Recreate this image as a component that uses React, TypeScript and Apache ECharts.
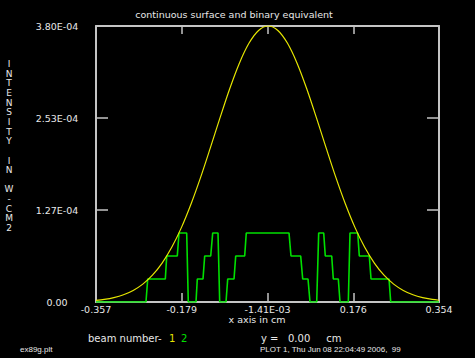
import React, { useEffect, useRef } from "react";
import * as echarts from "echarts";

// Continuous surface intensity (yellow)
const gaussX = [-0.357, -0.34, -0.32, -0.30, -0.28, -0.26, -0.24, -0.22, -0.20, -0.18, -0.16, -0.14, -0.12, -0.10, -0.08, -0.06, -0.04, -0.02, 0.0,
  0.02, 0.04, 0.06, 0.08, 0.10, 0.12, 0.14, 0.16, 0.18, 0.20, 0.22, 0.24, 0.26, 0.28, 0.30, 0.32, 0.34, 0.354];
const gaussY = [2.19e-6, 3.53e-6, 6.03e-6, 9.95e-6, 1.59e-5, 2.46e-5, 3.69e-5, 5.36e-5, 7.53e-5, 1.024e-4, 1.349e-4, 1.719e-4, 2.122e-4, 2.535e-4, 2.933e-4, 3.285e-4, 3.562e-4, 3.739e-4, 3.80e-4,
  3.739e-4, 3.562e-4, 3.285e-4, 2.933e-4, 2.535e-4, 2.122e-4, 1.719e-4, 1.349e-4, 1.024e-4, 7.53e-5, 5.36e-5, 3.69e-5, 2.46e-5, 1.59e-5, 9.95e-6, 6.03e-6, 3.53e-6, 2.38e-6];

// Binary equivalent (green)
const greenX = [-0.357, -0.2534, -0.2498, -0.2133, -0.2104, -0.1885, -0.1849, -0.1690, -0.1657, -0.1497, -0.1470, -0.1352, -0.1317, -0.1192, -0.1151, -0.1041, -0.1006,
  -0.0875, -0.0840, -0.0709, -0.0674, -0.0488, -0.0455, 0.0431, 0.0472, 0.0673, 0.0715, 0.0825, 0.0866, 0.1005, 0.1046, 0.1150, 0.1183, 0.1316, 0.1349,
  0.1453, 0.1488, 0.1660, 0.1695, 0.1855, 0.1888, 0.2095, 0.2131, 0.2504, 0.2539, 0.354];
const greenY = [0, 0, 3.17e-5, 3.17e-5, 6.33e-5, 6.33e-5, 9.5e-5, 9.5e-5, 0, 0, 3.17e-5, 3.17e-5, 6.33e-5, 6.33e-5, 9.5e-5, 9.5e-5, 0,
  0, 3.17e-5, 3.17e-5, 6.33e-5, 6.33e-5, 9.5e-5, 9.5e-5, 6.33e-5, 6.33e-5, 3.17e-5, 3.17e-5, 0, 0, 9.5e-5, 9.5e-5, 6.33e-5, 6.33e-5, 3.17e-5,
  3.17e-5, 0, 0, 9.5e-5, 9.5e-5, 6.33e-5, 6.33e-5, 3.17e-5, 3.17e-5, 0, 0];

const xTickLabels = ["-0.357", "-0.179", "-1.41E-03", "0.176", "0.354"];
const yTickLabels = ["0.00", "1.27E-04", "2.53E-04", "3.80E-04"];
const xMin = -0.357;
const xMax = 0.354;
const yMax = 3.8e-4;
const yAxisTitle = "INTENSITY IN W-CM2";

const FRAME = "#c4c4c4";
const TXT = "#e8e8e8";

export default function App() {
  const ref = useRef<HTMLDivElement>(null);
  useEffect(() => {
    if (!ref.current) return;
    const chart = echarts.init(ref.current, null, { renderer: "svg" });
    const letters: any[] = yAxisTitle.split("").map((ch, i) => ({
      type: "text",
      x: 9,
      y: 64 + i * 9.65,
      style: { text: ch, fill: TXT, font: "9px 'DejaVu Sans'", textAlign: "center", textVerticalAlign: "middle" },
    }));
    const tickLine = { lineStyle: { color: FRAME, width: 1.5 } };
    const axisLine = { show: true, onZero: false, lineStyle: { color: FRAME, width: 2 } };
    const gridPos = { left: 96, right: 36, top: 26, bottom: 56, containLabel: false };
    chart.setOption({
      animation: false,
      backgroundColor: "#000000",
      grid: [{ ...gridPos }, { ...gridPos }, { ...gridPos }],
      xAxis: [
        { type: "value", min: xMin, max: xMax, show: false, gridIndex: 0 },
        {
          type: "value", min: 0, max: 4, interval: 1, position: "bottom", gridIndex: 1,
          axisLine, splitLine: { show: false },
          axisTick: { show: true, inside: true, length: 9, ...tickLine },
          axisLabel: {
            show: true, color: TXT, fontSize: 9.5, fontFamily: "DejaVu Sans", margin: 2,
            showMinLabel: true, showMaxLabel: true,
            formatter: (v: number) => xTickLabels[Math.round(v)] ?? "",
          },
        },
        {
          type: "value", min: 0, max: 4, interval: 1, position: "top", gridIndex: 2,
          axisLine, splitLine: { show: false },
          axisTick: { show: true, inside: true, length: 8, ...tickLine },
          axisLabel: { show: false },
        },
      ],
      yAxis: [
        { type: "value", min: 0, max: yMax, show: false, gridIndex: 0 },
        {
          type: "value", min: 0, max: 3, interval: 1, position: "left", gridIndex: 1,
          axisLine, splitLine: { show: false },
          axisTick: { show: true, inside: true, length: 12, ...tickLine },
          axisLabel: {
            show: true, color: TXT, fontSize: 9.5, fontFamily: "DejaVu Sans", margin: 39, align: "center",
            showMinLabel: true, showMaxLabel: true,
            formatter: (v: number) => yTickLabels[Math.round(v)] ?? "",
          },
        },
        {
          type: "value", min: 0, max: 3, interval: 1, position: "right", gridIndex: 2,
          axisLine, splitLine: { show: false },
          axisTick: { show: true, inside: true, length: 12, ...tickLine },
          axisLabel: { show: false },
        },
      ],
      series: [
        {
          type: "line", xAxisIndex: 0, yAxisIndex: 0, showSymbol: false, smooth: 0.3,
          data: gaussX.map((x, i) => [x, gaussY[i]]),
          lineStyle: { color: "#e6e600", width: 1.2 }, z: 3,
        },
        {
          type: "line", xAxisIndex: 0, yAxisIndex: 0, showSymbol: false,
          data: greenX.map((x, i) => [x, greenY[i]]),
          lineStyle: { color: "#00e000", width: 1.6 }, z: 2,
        },
      ],
      graphic: [
        ...letters,
        { type: "text", x: 234, y: 14, style: { text: "continuous surface and binary equivalent", fill: TXT, font: "9.5px 'DejaVu Sans'", textAlign: "center", textVerticalAlign: "middle" } },
        { type: "text", x: 257, y: 319, style: { text: "x axis in cm", fill: TXT, font: "9.5px 'DejaVu Sans'", textAlign: "center", textVerticalAlign: "middle" } },
        { type: "text", x: 88, y: 338, style: { text: "beam number-", fill: TXT, font: "10px 'DejaVu Sans'", textAlign: "left", textVerticalAlign: "middle" } },
        { type: "text", x: 169, y: 338, style: { text: "1", fill: "#e6e600", font: "10px 'DejaVu Sans'", textAlign: "left", textVerticalAlign: "middle" } },
        { type: "text", x: 181, y: 338, style: { text: "2", fill: "#00e000", font: "10px 'DejaVu Sans'", textAlign: "left", textVerticalAlign: "middle" } },
        { type: "text", x: 261, y: 338, style: { text: "y =   0.00     cm", fill: TXT, font: "10px 'DejaVu Sans'", textAlign: "left", textVerticalAlign: "middle" } },
        { type: "text", x: 20, y: 349, style: { text: "ex89g.plt", fill: TXT, font: "8px 'Liberation Sans'", textAlign: "left", textVerticalAlign: "middle" } },
        { type: "text", x: 260, y: 349, style: { text: "PLOT 1, Thu Jun 08 22:04:49 2006,  99", fill: TXT, font: "8px 'Liberation Sans'", textAlign: "left", textVerticalAlign: "middle" } },
      ],
    });
    return () => chart.dispose();
  }, []);
  return <div ref={ref} style={{ position: "fixed", left: 0, top: 0, width: 475, height: 358 }} />;
}
